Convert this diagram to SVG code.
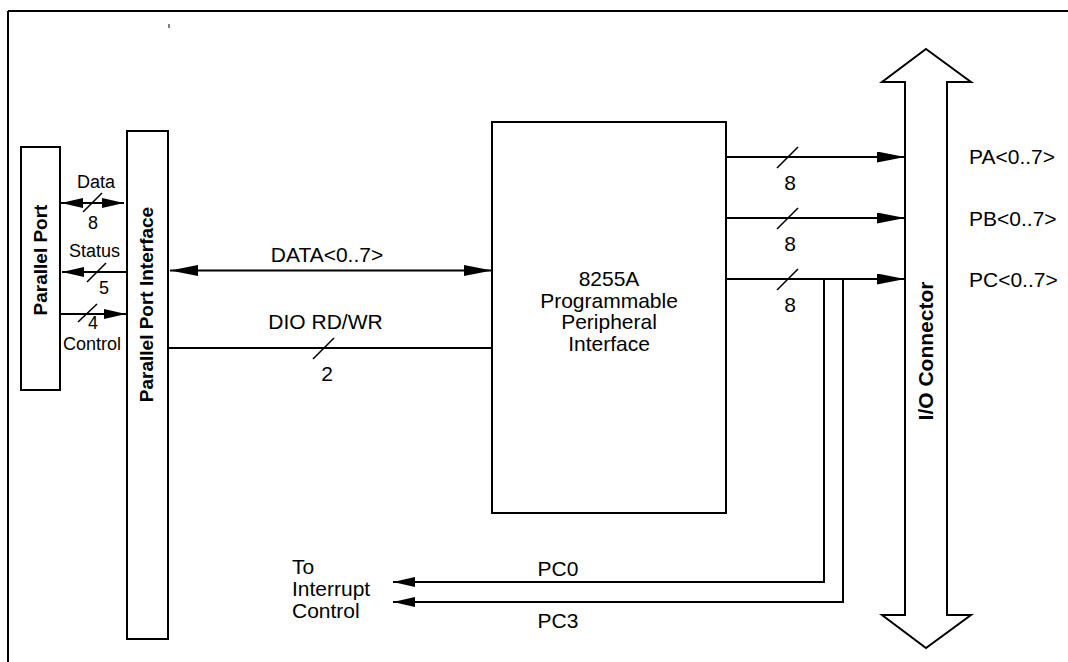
<svg xmlns="http://www.w3.org/2000/svg" width="1068" height="662" viewBox="0 0 1068 662">
<defs>
<style>
.box{fill:#fff;stroke:#000;stroke-width:2}
.ln{fill:none;stroke:#000;stroke-width:2}
.sl{fill:none;stroke:#000;stroke-width:1.6}
.t{font-family:"Liberation Sans",Arial,sans-serif;font-size:21px;fill:#000}
.ts{font-family:"Liberation Sans",Arial,sans-serif;font-size:18px;fill:#000}
.tb{font-family:"Liberation Sans",Arial,sans-serif;font-size:19px;font-weight:bold;fill:#000}
.m{text-anchor:middle}
</style>
<marker id="ah" markerUnits="userSpaceOnUse" markerWidth="28" markerHeight="11" refX="28" refY="5.5" orient="auto-start-reverse"><path d="M0,0 L28,5.5 L0,11 z" fill="#000"/></marker>
<marker id="as" markerUnits="userSpaceOnUse" markerWidth="22" markerHeight="10" refX="22" refY="5" orient="auto-start-reverse"><path d="M0,0 L22,5 L0,10 z" fill="#000"/></marker>
</defs>
<rect width="1068" height="662" fill="#fff"/>
<g id="frame">
<path class="ln" d="M8,11 H1068 M8,11 V662" stroke-width="2.5"/>
<path d="M169,24 V28" stroke="#000" stroke-width="1"/>
</g>
<g id="parallel-port">
<rect class="box" x="21" y="147" width="39" height="243"/>
<text class="tb m" transform="translate(47,260) rotate(-90)">Parallel Port</text>
</g>
<g id="parallel-port-interface">
<rect class="box" x="127" y="131" width="41" height="508"/>
<text class="tb m" transform="translate(153,304.5) rotate(-90)">Parallel Port Interface</text>
</g>
<g id="ppi-8255a">
<rect class="box" x="492" y="122" width="234" height="391"/>
<text class="t m" x="609" y="286">8255A</text>
<text class="t m" x="609" y="307.5">Programmable</text>
<text class="t m" x="609" y="329">Peripheral</text>
<text class="t m" x="609" y="350.5">Interface</text>
</g>
<g id="io-connector">
<path class="box" d="M926,49 L971,82 L947,82 L947,615 L971,615 L926,648 L882,615 L905,615 L905,82 L882,82 Z"/>
<text class="tb m" style="font-size:21px" transform="translate(933,351) rotate(-90)">I/O Connector</text>
<text class="t" x="969" y="164">PA&lt;0..7&gt;</text>
<text class="t" x="969" y="226">PB&lt;0..7&gt;</text>
<text class="t" x="969" y="287">PC&lt;0..7&gt;</text>
</g>
<g id="interrupt-control">
<text class="t" x="292" y="574">To</text>
<text class="t" x="292" y="596">Interrupt</text>
<text class="t" x="292" y="618">Control</text>
</g>
<g id="connectors">
<line class="ln" x1="61" y1="203" x2="124" y2="203" marker-start="url(#as)" marker-end="url(#as)"/>
<line class="sl" x1="83" y1="212" x2="102" y2="193"/>
<text class="ts m" x="96" y="188">Data</text>
<text class="ts m" x="93" y="229">8</text>
<line class="ln" x1="127" y1="272" x2="62" y2="272" marker-end="url(#as)"/>
<line class="sl" x1="87" y1="282" x2="106" y2="263"/>
<text class="ts m" x="94.5" y="257">Status</text>
<text class="ts m" x="104" y="294">5</text>
<line class="ln" x1="60" y1="314" x2="126" y2="314" marker-end="url(#as)"/>
<line class="sl" x1="78" y1="322" x2="97" y2="304"/>
<text class="ts m" x="93" y="329">4</text>
<text class="ts m" x="92" y="350">Control</text>
<line class="ln" x1="170" y1="270.5" x2="492" y2="270.5" marker-start="url(#ah)" marker-end="url(#ah)"/>
<text class="t m" x="327" y="262">DATA&lt;0..7&gt;</text>
<line class="ln" x1="168" y1="348" x2="492" y2="348"/>
<line class="sl" x1="313" y1="359" x2="334" y2="338"/>
<text class="t m" x="325.5" y="329">DIO RD/WR</text>
<text class="t m" x="327" y="381">2</text>
<line class="ln" x1="726" y1="157" x2="905" y2="157" marker-end="url(#ah)"/>
<line class="sl" x1="777" y1="168" x2="798" y2="147"/>
<text class="t m" x="790" y="190">8</text>
<line class="ln" x1="726" y1="218" x2="905" y2="218" marker-end="url(#ah)"/>
<line class="sl" x1="777" y1="229" x2="798" y2="208"/>
<text class="t m" x="790" y="251">8</text>
<line class="ln" x1="726" y1="279" x2="905" y2="279" marker-end="url(#ah)"/>
<line class="sl" x1="777" y1="290" x2="798" y2="269"/>
<text class="t m" x="790" y="312">8</text>
<polyline class="ln" points="824,279 824,582 393,582" marker-end="url(#as)"/>
<polyline class="ln" points="843,279 843,602 393,602" marker-end="url(#as)"/>
<text class="t m" x="558" y="576">PC0</text>
<text class="t m" x="558" y="628">PC3</text>
</g>
</svg>
